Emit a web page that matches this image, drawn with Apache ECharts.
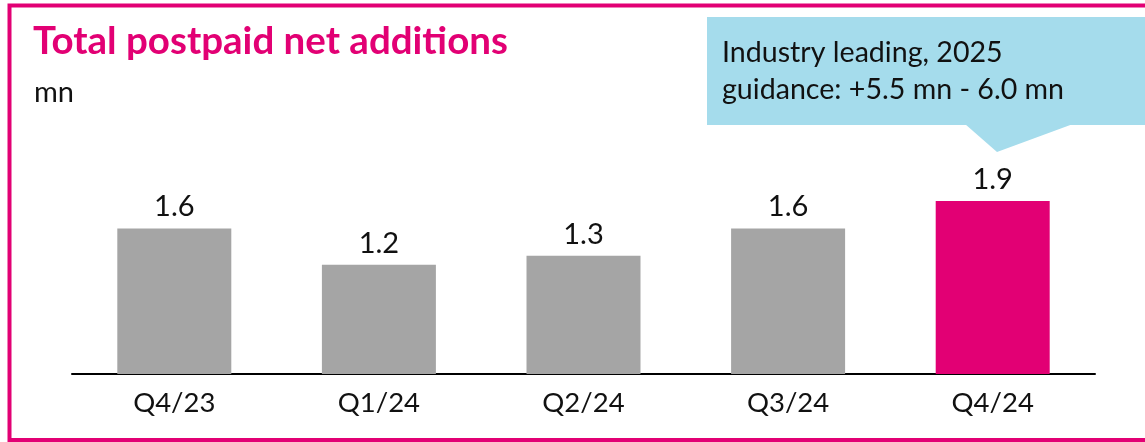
<!DOCTYPE html>
<html>
<head>
<meta charset="utf-8">
<title>Total postpaid net additions</title>
<script src="https://cdn.jsdelivr.net/npm/echarts@6/dist/echarts.min.js"></script>
<style>
  html, body { margin: 0; padding: 0; background: #ffffff; }
  #chart { width: 1145px; height: 442px; }
</style>
</head>
<body>
<div id="chart"></div>
<script>
// Quarterly postpaid net additions, in millions
const quarters = ['Q4/23', 'Q1/24', 'Q2/24', 'Q3/24', 'Q4/24'];
const netAdds = [1.6, 1.2, 1.3, 1.6, 1.9];
const titleText = 'Total postpaid net additions';
const unitText = 'mn';
const calloutLines = ['Industry leading, 2025', 'guidance: +5.5 mn - 6.0 mn'];

const MAGENTA = '#e20074';
const GREY = '#a5a5a5';
const SKY = '#a5dcec';
const FONT = 'Lato, "Noto Sans", sans-serif';

const chart = echarts.init(document.getElementById('chart'), null, { renderer: 'canvas' });

const barData = netAdds.map((v, i) => ({
  value: v,
  itemStyle: { color: i === netAdds.length - 1 ? MAGENTA : GREY }
}));

chart.setOption({
  animation: false,
  backgroundColor: '#ffffff',
  grid: { left: 72, right: 50, top: 192, bottom: 68, containLabel: false },
  xAxis: {
    type: 'category',
    data: quarters,
    axisLine: { show: true, lineStyle: { color: '#000000', width: 2 } },
    axisTick: { show: false },
    axisLabel: { color: '#111111', fontSize: 27.5, fontFamily: FONT, margin: 15 }
  },
  yAxis: {
    type: 'value',
    min: 0,
    max: 2,
    show: false,
    splitLine: { show: false }
  },
  series: [{
    type: 'bar',
    data: barData,
    barWidth: 114,
    label: {
      show: true,
      position: 'top',
      distance: 7,
      color: '#111111',
      fontSize: 29,
      fontFamily: FONT,
      formatter: p => p.value.toFixed(1)
    }
  }],
  graphic: [
    // frame around the panel (open on the right)
    {
      type: 'polyline',
      shape: { points: [[1160, 5.5], [9.5, 5.5], [9.5, 440], [1160, 440]] },
      style: { stroke: MAGENTA, lineWidth: 4, fill: null }
    },
    {
      type: 'text',
      left: 33, top: 22,
      style: { text: titleText, fill: MAGENTA, fontSize: 38.5, fontWeight: 'bold', fontFamily: FONT }
    },
    {
      type: 'text',
      left: 34, top: 78,
      style: { text: unitText, fill: '#111111', fontSize: 29, fontFamily: FONT }
    },
    // guidance callout
    {
      type: 'rect',
      shape: { x: 707, y: 17, width: 460, height: 108 },
      style: { fill: SKY }
    },
    {
      type: 'polygon',
      shape: { points: [[965, 124], [997, 152], [1073, 124]] },
      style: { fill: SKY }
    },
    {
      type: 'text',
      left: 722, top: 34,
      style: { text: calloutLines.join('\n'), fill: '#111111', fontSize: 28.6, lineHeight: 37, fontFamily: FONT }
    }
  ]
});
</script>
</body>
</html>
